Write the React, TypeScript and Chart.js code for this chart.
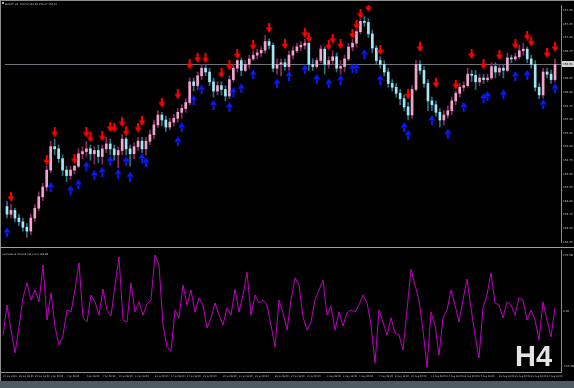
import React, { useEffect, useRef } from 'react';
import { Chart, registerables } from 'chart.js';

Chart.register(...registerables);

// ---------- DATA ----------
const opens = [
  153.90, 153.76, 153.83, 153.69, 153.62, 153.52, 153.45, 153.69, 153.87, 154.08,
  154.26, 154.57, 155.00, 154.96, 154.78, 154.57, 154.47, 154.57, 154.64, 154.87,
  154.91, 154.96, 154.87, 154.93, 154.82, 154.96, 155.05, 154.96, 154.85, 154.93,
  155.14, 154.96, 154.87, 155.00, 155.10, 154.96, 155.10, 155.22, 155.40, 155.58,
  155.49, 155.36, 155.45, 155.52, 155.63, 155.70, 155.81, 156.19, 156.12, 156.30,
  156.44, 156.37, 156.19, 156.02, 156.12, 156.05, 155.93, 156.23, 156.44, 156.58,
  156.40, 156.51, 156.61, 156.68, 156.72, 156.77, 156.93, 156.86, 156.44, 156.51,
  156.54, 156.47, 156.68, 156.76, 156.83, 156.86, 156.90, 156.51, 156.47, 156.58,
  156.79, 156.51, 156.58, 156.65, 156.44, 156.47, 156.61, 156.83, 156.90, 157.11,
  157.30, 157.28, 157.07, 156.81, 156.58, 156.51, 156.37, 156.16, 156.09, 155.98,
  155.88, 155.73, 155.58, 156.05, 156.51, 156.40, 156.16, 155.84, 155.77, 155.63,
  155.49, 155.58, 155.66, 155.84, 155.98, 156.09, 156.12, 156.33, 156.31, 156.19,
  156.26, 156.23, 156.26, 156.47, 156.37, 156.44, 156.40, 156.63, 156.61, 156.65,
  156.76, 156.79, 156.61, 156.51, 156.09, 155.95, 156.37, 156.33, 156.23,
];
const highs = [
  153.99, 153.94, 153.87, 153.76, 153.69, 153.59, 153.76, 153.94, 154.17, 154.33,
  154.64, 155.10, 155.14, 155.03, 154.85, 154.64, 154.64, 154.66, 154.96, 155.00,
  155.10, 155.03, 155.00, 155.03, 155.03, 155.17, 155.14, 155.03, 155.00, 155.22,
  155.17, 155.03, 155.07, 155.17, 155.17, 155.17, 155.31, 155.49, 155.66, 155.63,
  155.56, 155.52, 155.59, 155.70, 155.77, 155.88, 156.26, 156.26, 156.37, 156.51,
  156.51, 156.44, 156.26, 156.19, 156.19, 156.12, 156.30, 156.51, 156.60, 156.63,
  156.58, 156.68, 156.76, 156.79, 156.83, 157.04, 156.98, 156.90, 156.61, 156.61,
  156.61, 156.76, 156.83, 156.90, 156.93, 156.97, 156.90, 156.61, 156.63, 156.86,
  156.83, 156.65, 156.76, 156.72, 156.58, 156.68, 156.90, 156.97, 157.14, 157.34,
  157.39, 157.35, 157.14, 156.86, 156.65, 156.58, 156.44, 156.23, 156.16, 156.05,
  155.95, 155.81, 156.12, 156.58, 156.58, 156.47, 156.23, 155.91, 155.84, 155.70,
  155.66, 155.75, 155.91, 156.02, 156.16, 156.19, 156.44, 156.40, 156.40, 156.33,
  156.33, 156.33, 156.54, 156.54, 156.51, 156.51, 156.72, 156.68, 156.72, 156.86,
  156.90, 156.83, 156.68, 156.58, 156.16, 156.44, 156.44, 156.40, 156.61,
];
const lows = [
  153.69, 153.69, 153.62, 153.55, 153.45, 153.34, 153.38, 153.62, 153.82, 154.01,
  154.19, 154.52, 154.85, 154.71, 154.47, 154.36, 154.40, 154.50, 154.61, 154.78,
  154.82, 154.75, 154.68, 154.71, 154.68, 154.89, 154.85, 154.75, 154.61, 154.85,
  154.85, 154.64, 154.78, 154.93, 154.89, 154.85, 155.03, 155.14, 155.35, 155.38,
  155.28, 155.31, 155.38, 155.45, 155.52, 155.63, 155.77, 156.02, 156.05, 156.23,
  156.30, 156.12, 155.91, 155.95, 155.95, 155.84, 155.88, 156.19, 156.37, 156.30,
  156.37, 156.44, 156.58, 156.61, 156.65, 156.72, 156.79, 156.37, 156.33, 156.30,
  156.40, 156.40, 156.61, 156.72, 156.76, 156.79, 156.40, 156.40, 156.44, 156.54,
  156.33, 156.44, 156.51, 156.37, 156.33, 156.37, 156.58, 156.76, 156.83, 157.07,
  157.21, 157.00, 156.72, 156.51, 156.44, 156.30, 156.09, 156.02, 155.91, 155.77,
  155.66, 155.49, 155.52, 156.02, 156.33, 156.09, 155.66, 155.66, 155.56, 155.36,
  155.40, 155.52, 155.59, 155.77, 155.91, 156.02, 156.09, 156.19, 156.05, 156.12,
  156.16, 156.19, 156.23, 156.26, 156.30, 156.26, 156.37, 156.54, 156.58, 156.61,
  156.68, 156.54, 156.44, 156.02, 155.88, 155.89, 156.26, 156.16, 156.19,
];
const closes = [
  153.76, 153.83, 153.69, 153.62, 153.52, 153.45, 153.69, 153.87, 154.08, 154.26,
  154.57, 155.00, 154.96, 154.78, 154.57, 154.47, 154.57, 154.64, 154.87, 154.91,
  154.96, 154.87, 154.93, 154.82, 154.96, 155.05, 154.96, 154.85, 154.93, 155.14,
  154.96, 154.87, 155.00, 155.10, 154.96, 155.10, 155.22, 155.40, 155.58, 155.49,
  155.36, 155.45, 155.52, 155.63, 155.70, 155.81, 156.19, 156.12, 156.30, 156.44,
  156.37, 156.19, 156.02, 156.12, 156.05, 155.93, 156.23, 156.44, 156.58, 156.40,
  156.51, 156.61, 156.68, 156.72, 156.77, 156.93, 156.86, 156.44, 156.51, 156.54,
  156.47, 156.68, 156.76, 156.83, 156.86, 156.90, 156.51, 156.47, 156.58, 156.79,
  156.51, 156.58, 156.65, 156.44, 156.47, 156.61, 156.83, 156.90, 157.11, 157.30,
  157.28, 157.07, 156.81, 156.58, 156.51, 156.37, 156.16, 156.09, 155.98, 155.88,
  155.73, 155.58, 156.05, 156.51, 156.40, 156.16, 155.84, 155.77, 155.63, 155.49,
  155.58, 155.66, 155.84, 155.98, 156.09, 156.12, 156.33, 156.31, 156.19, 156.26,
  156.23, 156.26, 156.47, 156.37, 156.44, 156.40, 156.63, 156.61, 156.65, 156.76,
  156.79, 156.61, 156.51, 156.09, 155.95, 156.37, 156.33, 156.23, 156.51,
];

// sell (red, down) arrows: bar index + price
const downArrowBars = [
  1, 10, 12, 17, 20, 21, 24, 26, 27, 29, 30, 33, 34, 39, 43, 46, 48, 50, 54, 56,
  58, 62, 66, 70, 75, 76, 81, 82, 84, 87, 88, 89, 91, 94, 101, 104, 108, 113, 117, 120,
  124, 128, 131, 132, 136, 138,
];
const downArrowPrices = [
  154.08, 154.75, 155.26, 154.77, 155.26, 155.17, 155.19, 155.36, 155.35, 155.45,
  155.28, 155.35, 155.47, 155.81, 155.96, 156.51, 156.63, 156.62, 156.35, 156.49,
  156.70, 156.86, 157.18, 156.88, 157.09, 157.00, 156.86, 156.98, 156.88, 157.07,
  157.24, 157.44, 157.56, 156.77, 155.96, 156.83, 156.17, 156.14, 156.70, 156.51,
  156.68, 156.88, 157.04, 156.93, 156.72, 156.83,
];
// buy (blue, up) arrows
const upArrowBars = [
  0, 11, 16, 18, 20, 22, 24, 26, 28, 30, 31, 34, 35, 43, 44, 47, 49, 52, 56, 57,
  59, 62, 68, 71, 75, 78, 81, 84, 87, 88, 90, 94, 100, 101, 107, 111, 115, 120, 121, 125,
  128, 131, 135, 138,
];
const upArrowPrices = [
  153.43, 154.26, 154.20, 154.31, 154.64, 154.48, 154.54, 154.74, 154.50, 154.73,
  154.45, 154.79, 154.71, 155.10, 155.36, 155.86, 156.05, 155.77, 155.73, 156.00,
  156.07, 156.33, 156.16, 156.30, 156.42, 156.24, 156.16, 156.23, 156.44, 156.44,
  156.70, 156.23, 155.36, 155.22, 155.49, 155.24, 155.73, 155.89, 155.93, 155.96,
  156.30, 156.32, 155.78, 156.07,
];

// lower window oscillator, one value per bar
const oscValues = [
  -77, 19, -61, -134, -51, 42, 90, 35, 67, 29,
  147, -29, 58, -51, -109, -77, 3, -3, 67, 154,
  -22, -35, 51, 29, -13, 70, 3, -16, 83, 173,
  -29, -35, 90, -3, 29, -13, 22, 35, 179, 147,
  -45, -115, -128, 3, -22, 83, 19, 67, -3, 42,
  19, -54, -22, 26, -13, -45, 10, -13, 70, -3,
  51, 125, -13, 51, 26, 35, 19, -45, -115, 35,
  -6, -61, 35, 106, 83, -19, -61, -35, 35, 67,
  99, -13, 16, -61, -3, -48, -6, 3, -3, 19,
  51, 26, -45, -166, 3, -35, -77, -22, -70, -77,
  -125, 3, 134, 83, 35, -61, -179, -3, -45, -141,
  -22, 3, 67, 19, -35, 35, 102, 10, -77, -150,
  10, 51, 122, 26, 19, -22, 29, 19, -13, 42,
  35, -29, 3, -29, -93, 29, -29, -83, 10,
];

const priceTicks = [
  157.5, 157.25, 157.0, 156.75, 156.5, 156.25, 156.0, 155.75, 155.5,
  155.25, 155.0, 154.75, 154.5, 154.25, 154.0, 153.75, 153.5, 153.25,
];
const oscTicks = [176.58, 0, -176.58];

const timeLabels = [
  '27 Jun 2023', '28 Jun 08:00', '29 Jun 16:00', '3 Jul 00:00', '4 Jul 08:00', '5 Jul 16:00',
  '7 Jul 00:00', '10 Jul 08:00', '11 Jul 16:00', '13 Jul 00:00', '14 Jul 08:00', '17 Jul 16:00',
  '19 Jul 00:00', '20 Jul 08:00', '21 Jul 16:00', '25 Jul 00:00', '26 Jul 08:00', '27 Jul 16:00',
  '31 Jul 00:00', '1 Aug 08:00', '2 Aug 16:00', '4 Aug 00:00', '7 Aug 08:00', '8 Aug 16:00',
  '10 Aug 00:00', '11 Aug 08:00', '14 Aug 16:00', '16 Aug 00:00', '17 Aug 08:00', '18 Aug 16:00',
  '22 Aug 00:00', '23 Aug 08:00', '24 Aug 16:00',
];
const timeLabelBars = [
  0, 4, 8, 12, 16, 21, 25, 29, 33, 38, 42, 46, 50, 55, 59, 63, 68, 72, 76, 81,
  85, 89, 94, 98, 102, 107, 111, 115, 119, 124, 128, 132, 136,
];

const mainTitle = 'EURJPY,H4  156.53 156.58 156.47 156.51';
const oscTitle = 'Cumulative Volume (42,0.00) 189.88';
const periodText = 'H4';

// ---------- STYLE ----------
const PRICE_MAX = 157.6;
const PRICE_MIN = 153.25;
const OSC_MAX = 195;
const OSC_MIN = -195;
const BULL_BODY = '#f0a6cc';
const BEAR_BODY = '#a4e6f4';
const BULL_WICK = '#8c2a66';
const BEAR_WICK = '#2a7484';
const AXIS = '#8c8c8c';
const TEXT = '#c4c4c4';
const FONT = '"DejaVu Sans", sans-serif';

function makeArrow(color: string, down: boolean): HTMLCanvasElement {
  const c = document.createElement('canvas');
  c.width = 8;
  c.height = 10;
  const g = c.getContext('2d')!;
  g.fillStyle = color;
  g.beginPath();
  if (down) {
    g.rect(3, 0, 2, 5);
    g.moveTo(0.5, 4.5);
    g.lineTo(7.5, 4.5);
    g.lineTo(4, 10);
  } else {
    g.rect(3, 5, 2, 5);
    g.moveTo(0.5, 5.5);
    g.lineTo(7.5, 5.5);
    g.lineTo(4, 0);
  }
  g.closePath();
  g.fill();
  return c;
}

export default function App() {
  const mainRef = useRef<HTMLCanvasElement>(null);
  const oscRef = useRef<HTMLCanvasElement>(null);

  useEffect(() => {
    document.body.style.margin = '0';
    document.body.style.background = '#000';
    const nSlots = closes.length + 1;
    const slots: string[] = [];
    for (let i = 0; i < nSlots; i++) slots.push('');
    const xLabels = slots.slice();
    timeLabelBars.forEach((b, k) => { xLabels[b] = timeLabels[k]; });

    const downData: (number | null)[] = slots.map(() => null);
    downArrowBars.forEach((b, k) => { downData[b] = downArrowPrices[k]; });
    const upData: (number | null)[] = slots.map(() => null);
    upArrowBars.forEach((b, k) => { upData[b] = upArrowPrices[k]; });

    const isUp = closes.map((c, i) => c >= opens[i]);
    const bodies = opens.map((o, i) => [o, closes[i]]);
    const wicks = lows.map((l, i) => [l, highs[i]]);
    const lastClose = closes[closes.length - 1];

    const mainPlugin = {
      id: 'mainDecor',
      beforeDatasetsDraw(chart: any) {
        const { ctx, chartArea, scales } = chart;
        const y = Math.round(scales.y.getPixelForValue(lastClose)) + 0.5;
        ctx.save();
        ctx.strokeStyle = '#6c7277';
        ctx.lineWidth = 1;
        ctx.beginPath();
        ctx.moveTo(chartArea.left, y);
        ctx.lineTo(chartArea.right, y);
        ctx.stroke();
        ctx.restore();
      },
      afterDraw(chart: any) {
        const { ctx, chartArea, scales } = chart;
        const y = Math.round(scales.y.getPixelForValue(lastClose));
        ctx.save();
        ctx.fillStyle = '#d2d2d2';
        ctx.fillRect(chartArea.right + 1, y - 3, 14, 6);
        ctx.fillStyle = '#000';
        ctx.font = `2.8px ${FONT}`;
        ctx.textBaseline = 'middle';
        ctx.textAlign = 'left';
        ctx.fillText(lastClose.toFixed(2), chartArea.right + 2, y + 0.3);
        ctx.fillStyle = '#b8b8b8';
        ctx.fillRect(2, 2, 2, 2);
        ctx.font = `2.5px ${FONT}`;
        ctx.fillStyle = TEXT;
        ctx.fillText(mainTitle, 5, 4);
        ctx.restore();
      },
    };

    const main = new Chart(mainRef.current!, {
      type: 'bar',
      data: {
        labels: slots,
        datasets: [
          {
            type: 'line', label: 'sell', data: downData, showLine: false,
            pointStyle: makeArrow('#ff0000', true), pointRadius: 4, order: 0,
          } as any,
          {
            type: 'line', label: 'buy', data: upData, showLine: false,
            pointStyle: makeArrow('#0a1aff', false), pointRadius: 4, order: 0,
          } as any,
          {
            type: 'bar', label: 'body', data: bodies as any,
            backgroundColor: isUp.map((u) => (u ? BULL_BODY : BEAR_BODY)),
            barThickness: 2, grouped: false, minBarLength: 1, borderWidth: 0, order: 1,
          } as any,
          {
            type: 'bar', label: 'wick', data: wicks as any,
            backgroundColor: isUp.map((u) => (u ? BULL_WICK : BEAR_WICK)),
            barThickness: 1, grouped: false, borderWidth: 0, order: 2,
          } as any,
        ],
      },
      options: {
        animation: false,
        responsive: false,
        devicePixelRatio: 1,
        events: [],
        layout: { padding: { left: 1, right: 0, top: 0, bottom: 0 } },
        plugins: { legend: { display: false }, tooltip: { enabled: false } },
        scales: {
          x: { display: false, offset: true, grid: { display: false } },
          y: {
            position: 'right',
            min: PRICE_MIN,
            max: PRICE_MAX,
            grid: { display: false, drawTicks: false },
            border: { display: true, color: AXIS },
            ticks: {
              color: TEXT, padding: 2, font: { size: 2.8, family: FONT },
              callback: (v: any) => Number(v).toFixed(2),
            },
            afterBuildTicks: (s: any) => { s.ticks = priceTicks.map((v) => ({ value: v })); },
            afterFit: (s: any) => { s.width = 13; s.paddingTop = 0; s.paddingBottom = 0; },
          } as any,
        },
      },
      plugins: [mainPlugin],
    });

    const oscPlugin = {
      id: 'oscDecor',
      afterDraw(chart: any) {
        const { ctx } = chart;
        ctx.save();
        ctx.font = `2.5px ${FONT}`;
        ctx.fillStyle = TEXT;
        ctx.textBaseline = 'middle';
        ctx.textAlign = 'left';
        ctx.fillText(oscTitle, 2, 5);
        ctx.font = 'bold 29px "Liberation Sans", Arial, sans-serif';
        ctx.fillStyle = '#e4e4e4';
        ctx.textBaseline = 'alphabetic';
        ctx.fillText(periodText, 515, 117);
        ctx.restore();
      },
    };

    const osc = new Chart(oscRef.current!, {
      type: 'line',
      data: {
        labels: xLabels,
        datasets: [
          {
            label: 'osc', data: oscValues, borderColor: '#c000c0', borderWidth: 1,
            pointRadius: 0, tension: 0, fill: false,
          },
        ],
      },
      options: {
        animation: false,
        responsive: false,
        devicePixelRatio: 1,
        events: [],
        layout: { padding: { left: 1, right: 0, top: 1, bottom: 0 } },
        plugins: { legend: { display: false }, tooltip: { enabled: false } },
        scales: {
          x: {
            offset: true,
            grid: { display: false, drawTicks: false },
            border: { display: true, color: AXIS },
            ticks: {
              autoSkip: false, maxRotation: 0, minRotation: 0, align: 'start',
              color: TEXT, padding: 3, font: { size: 2.3, family: FONT },
            },
            afterBuildTicks: (s: any) => { s.ticks = timeLabelBars.map((b) => ({ value: b })); },
            afterFit: (s: any) => { s.height = 10; s.paddingLeft = 0; s.paddingRight = 0; },
          } as any,
          y: {
            position: 'right',
            min: OSC_MIN,
            max: OSC_MAX,
            grid: { display: false, drawTicks: false },
            border: { display: true, color: AXIS },
            ticks: {
              color: TEXT, padding: 2, font: { size: 2.8, family: FONT },
              callback: (v: any) => Number(v).toFixed(2),
            },
            afterBuildTicks: (s: any) => { s.ticks = oscTicks.map((v) => ({ value: v })); },
            afterFit: (s: any) => { s.width = 13; s.paddingTop = 0; s.paddingBottom = 0; },
          } as any,
        },
      },
      plugins: [oscPlugin],
    });

    return () => {
      main.destroy();
      osc.destroy();
    };
  }, []);

  const abs = (o: React.CSSProperties): React.CSSProperties => ({ position: 'absolute', ...o });

  return (
    <div style={{ position: 'fixed', left: 0, top: 0, width: 574, height: 388, background: '#000', overflow: 'hidden' }}>
      <canvas ref={mainRef} width={574} height={247} style={abs({ left: 0, top: 0, width: 574, height: 247 })} />
      <canvas ref={oscRef} width={574} height={133} style={abs({ left: 0, top: 249, width: 574, height: 133 })} />
      <div style={abs({ left: 0, top: 0, width: 574, height: 1, background: '#8c8c8c' })} />
      <div style={abs({ left: 0, top: 0, width: 1, height: 381, background: '#8c8c8c' })} />
      <div style={abs({ left: 0, top: 247, width: 574, height: 1, background: '#a0a0a0' })} />
      <div style={abs({ left: 0, top: 381, width: 574, height: 7, background: '#4d5b62' })} />
    </div>
  );
}
